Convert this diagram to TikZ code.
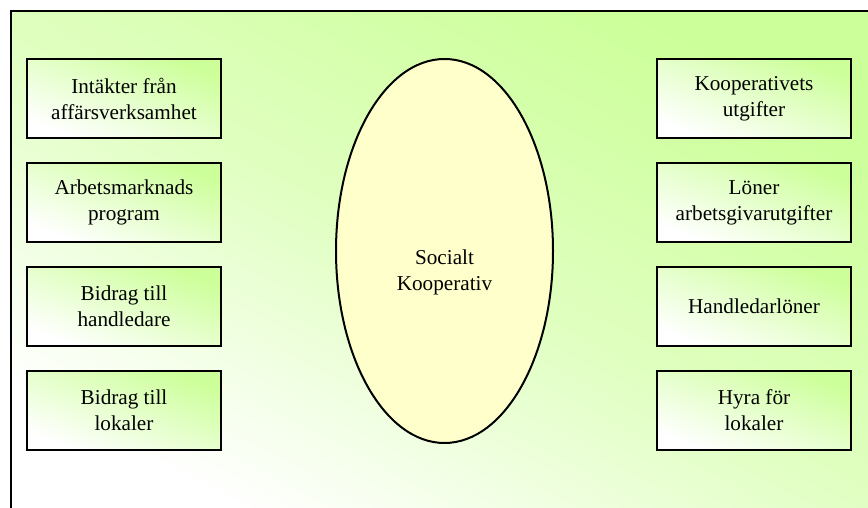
\documentclass[tikz,border=0pt]{standalone}
\usepackage{fontspec}
\setmainfont{Liberation Serif}
\usetikzlibrary{positioning,shapes.geometric}

\definecolor{leafgreen}{RGB}{204,255,153}
\definecolor{paleyellow}{RGB}{255,255,204}

\begin{document}
\begin{tikzpicture}[
     x=0.5pt, y=0.5pt,
     % define styles
     frame/.style={
         draw,
         line width=1pt,
         top color=leafgreen,
         bottom color=white,
         middle color=leafgreen!62!white,
         shading angle=-28
     },
     item/.style={
         draw,
         line width=1pt,
         top color=leafgreen,
         bottom color=white,
         shading angle=-22,
         minimum width=97pt,
         minimum height=39.5pt,
         align=center,
         outer sep=0pt,
         font=\fontsize{10.6}{13}\selectfont
     },
     hub/.style={
         draw,
         ellipse,
         line width=1pt,
         fill=paleyellow,
         minimum width=108.5pt,
         minimum height=192pt,
         inner sep=0pt
     },
     node distance=12.5pt and 218pt
]
\useasboundingbox (0,0) rectangle (868,508);
% background frame
\draw[frame] (11,497) rectangle (874,-6);

% income column
\node[item] (in1) at (124,409.5) {Intäkter från\\affärsverksamhet};
\node[item, below=of in1] (in2) {Arbetsmarknads\\program};
\node[item, below=of in2] (in3) {Bidrag till\\handledare};
\node[item, below=of in3] (in4) {Bidrag till\\lokaler};

% cost column
\node[item, right=of in1] (out1) {Kooperativets\\utgifter};
\node[item, right=of in2] (out2) {Löner\\arbetsgivarutgifter};
\node[item, right=of in3] (out3) {Handledarlöner};
\node[item, right=of in4] (out4) {Hyra för\\lokaler};

% cooperative in the middle
\node[hub] (hub) at (444.5,257) {};
\node[align=center, font=\fontsize{10.6}{13}\selectfont] (hubtext)
     at ([yshift=-10.5pt]hub.center) {Socialt\\Kooperativ};
\end{tikzpicture}
\end{document}
